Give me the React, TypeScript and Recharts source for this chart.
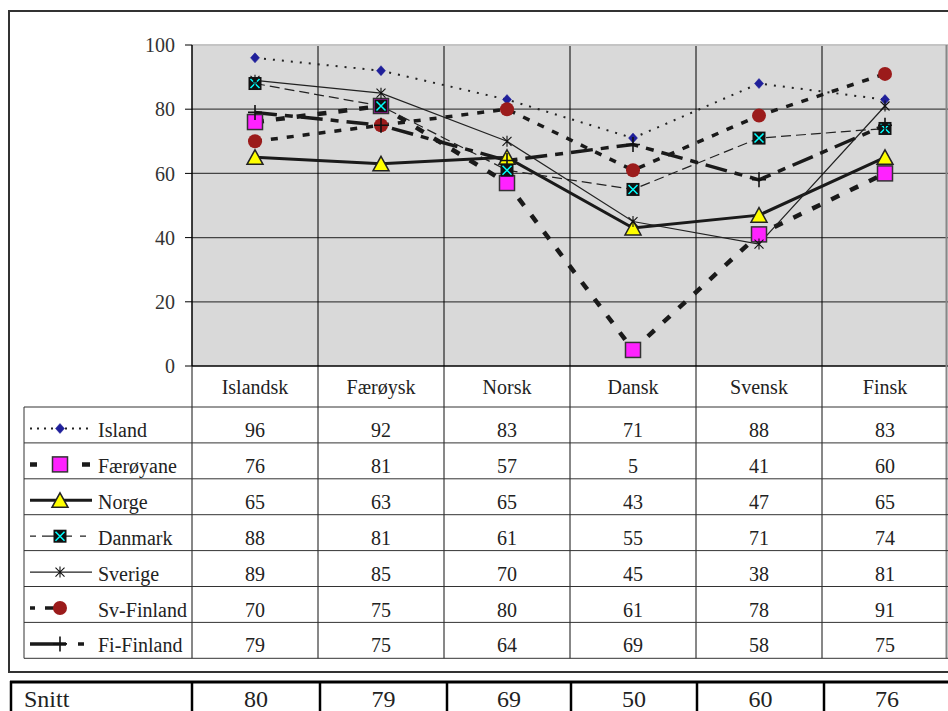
import React from 'react';
import { LineChart, Line, XAxis, YAxis, CartesianGrid, ReferenceLine } from 'recharts';

const categories = ['Islandsk', 'Færøysk', 'Norsk', 'Dansk', 'Svensk', 'Finsk'];
const island = [96, 92, 83, 71, 88, 83];
const faeroyane = [76, 81, 57, 5, 41, 60];
const norge = [65, 63, 65, 43, 47, 65];
const danmark = [88, 81, 61, 55, 71, 74];
const sverige = [89, 85, 70, 45, 38, 81];
const svFinland = [70, 75, 80, 61, 78, 91];
const fiFinland = [79, 75, 64, 69, 58, 75];
const snitt = [80, 79, 69, 50, 60, 76];
const seriesNames = ['Island', 'Færøyane', 'Norge', 'Danmark', 'Sverige', 'Sv-Finland', 'Fi-Finland'];
const yTicks = [0, 20, 40, 60, 80, 100];
const gridValues = [20, 40, 60, 80];
const snittLabel = 'Snitt';

const FONT = 'Liberation Serif, DejaVu Serif, Noto Serif, Times New Roman, serif';

type MarkerType = 'diamond' | 'square' | 'triangle' | 'xsquare' | 'star' | 'circle' | 'plus';

interface SeriesCfg {
  key: string;
  name: string;
  values: number[];
  width: number;
  dash?: string;
  legendDash?: string;
  marker: MarkerType;
  color: string;
}

const series: SeriesCfg[] = [
  { key: 'island', name: seriesNames[0], values: island, width: 2, dash: '2 7', legendDash: '2 5', marker: 'diamond', color: '#222' },
  { key: 'faeroyane', name: seriesNames[1], values: faeroyane, width: 4.5, dash: '9 12', legendDash: '7 45 8 100', marker: 'square', color: '#1a1a1a' },
  { key: 'norge', name: seriesNames[2], values: norge, width: 3, marker: 'triangle', color: '#1a1a1a' },
  { key: 'danmark', name: seriesNames[3], values: danmark, width: 1.2, dash: '10 5', legendDash: '6 6 30 8 6 20', marker: 'xsquare', color: '#222' },
  { key: 'sverige', name: seriesNames[4], values: sverige, width: 1.2, marker: 'star', color: '#222' },
  { key: 'svFinland', name: seriesNames[5], values: svFinland, width: 3.5, dash: '7 9', legendDash: '5 10 15 37 6 20', marker: 'circle', color: '#1a1a1a' },
  { key: 'fiFinland', name: seriesNames[6], values: fiFinland, width: 3.5, dash: '22 8 8 8', legendDash: '36 12 6 20', marker: 'plus', color: '#1a1a1a' },
];

const data = categories.map((c, i) => {
  const row: Record<string, number | string> = { i, cat: c };
  series.forEach((s) => {
    row[s.key] = s.values[i];
  });
  return row;
});

function Marker({ type, cx, cy }: { type: MarkerType; cx: number; cy: number }) {
  if (cx == null || cy == null) return null;
  switch (type) {
    case 'diamond':
      return (
        <polygon
          points={`${cx},${cy - 5} ${cx + 4.5},${cy} ${cx},${cy + 5} ${cx - 4.5},${cy}`}
          fill="#1f1f9a"
          stroke="#1f1f9a"
          strokeWidth={0.5}
        />
      );
    case 'square':
      return <rect x={cx - 7.5} y={cy - 7.5} width={15} height={15} fill="#ff22ff" stroke="#333" strokeWidth={1.5} />;
    case 'triangle':
      return (
        <polygon
          points={`${cx},${cy - 7.5} ${cx + 8},${cy + 7} ${cx - 8},${cy + 7}`}
          fill="#ffff00"
          stroke="#222"
          strokeWidth={1.5}
          strokeLinejoin="miter"
        />
      );
    case 'xsquare':
      return (
        <g>
          <rect x={cx - 6.5} y={cy - 6.5} width={13} height={13} fill="#111" />
          <path
            d={`M${cx - 4.5} ${cy - 4.5}L${cx + 4.5} ${cy + 4.5}M${cx + 4.5} ${cy - 4.5}L${cx - 4.5} ${cy + 4.5}`}
            stroke="#00ffff"
            strokeWidth={1.5}
          />
        </g>
      );
    case 'star':
      return (
        <path
          d={`M${cx - 4.5} ${cy - 4.5}L${cx + 4.5} ${cy + 4.5}M${cx + 4.5} ${cy - 4.5}L${cx - 4.5} ${cy + 4.5}M${cx} ${cy - 5.5}V${cy + 5.5}`}
          stroke="#111"
          strokeWidth={1.1}
          fill="none"
        />
      );
    case 'circle':
      return <circle cx={cx} cy={cy} r={7} fill="#9b1b1b" />;
    case 'plus':
      return (
        <path
          d={`M${cx - 7} ${cy}H${cx + 7}M${cx} ${cy - 7.5}V${cy + 7.5}`}
          stroke="#111"
          strokeWidth={1.6}
          fill="none"
        />
      );
    default:
      return null;
  }
}

// Table geometry
const colEdges = [192, 318, 444, 570, 696, 822, 948];
const tableLeft = 24;
const bodyTop = 407;
const rowH = 35.9;
const rowTop = (r: number) => bodyTop + r * rowH;
const snittEdges = [192, 320, 447, 571, 697, 824, 950];

const textStyle: React.CSSProperties = { fontFamily: FONT };

function Overlay() {
  const bottom = rowTop(series.length);
  return (
    <svg
      width={948}
      height={711}
      style={{ position: 'absolute', left: 0, top: 0, pointerEvents: 'none', fontFamily: FONT }}
    >
      {/* outer frame */}
      <rect x={9} y={11} width={1000} height={661} fill="none" stroke="#333" strokeWidth={2} />
      {/* x axis line */}
      <line x1={192} x2={948} y1={366} y2={366} stroke="#000" strokeWidth={1.5} />
      {/* header vertical lines */}
      {colEdges.slice(0, 6).map((x) => (
        <line key={`hv${x}`} x1={x} x2={x} y1={366} y2={bottom} stroke="#111" strokeWidth={1} />
      ))}
      <line x1={946.5} x2={946.5} y1={45} y2={bottom} stroke="#888" strokeWidth={2} />
      <line x1={tableLeft} x2={tableLeft} y1={bodyTop} y2={bottom} stroke="#333" strokeWidth={1} />
      {series.map((_, r) => (
        <line key={`hl${r}`} x1={tableLeft} x2={948} y1={rowTop(r)} y2={rowTop(r)} stroke="#333" strokeWidth={1} />
      ))}
      <line x1={tableLeft} x2={948} y1={bottom} y2={bottom} stroke="#333" strokeWidth={1} />
      {/* header labels */}
      {categories.map((c, i) => (
        <text
          key={`h${c}`}
          x={(colEdges[i] + colEdges[i + 1]) / 2}
          y={394}
          textAnchor="middle"
          fontSize={20}
          fill="#222"
          style={textStyle}
        >
          {c}
        </text>
      ))}
      {/* body rows */}
      {series.map((s, r) => {
        const top = rowTop(r);
        const ly = top + 21.5;
        return (
          <g key={`row${s.key}`}>
            <line
              x1={30}
              x2={92}
              y1={ly}
              y2={ly}
              stroke={s.color}
              strokeWidth={s.width}
              strokeDasharray={s.legendDash ?? s.dash}
            />
            <Marker type={s.marker} cx={60} cy={ly} />
            <text x={98} y={top + 30} fontSize={20} fill="#222" style={textStyle}>
              {s.name}
            </text>
            {s.values.map((v, i) => (
              <text
                key={`v${i}`}
                x={(colEdges[i] + colEdges[i + 1]) / 2}
                y={top + 30}
                textAnchor="middle"
                fontSize={20}
                fill="#222"
                style={textStyle}
              >
                {v}
              </text>
            ))}
          </g>
        );
      })}
      {/* Snitt table */}
      <line x1={10} x2={948} y1={682} y2={682} stroke="#000" strokeWidth={3} />
      <line x1={11} x2={11} y1={681} y2={711} stroke="#000" strokeWidth={2.5} />
      {snittEdges.slice(0, 6).map((x) => (
        <line key={`sv${x}`} x1={x} x2={x} y1={681} y2={711} stroke="#000" strokeWidth={2.5} />
      ))}
      <text x={24} y={707} fontSize={24} fill="#222" style={textStyle}>
        {snittLabel}
      </text>
      {snitt.map((v, i) => (
        <text
          key={`s${i}`}
          x={(snittEdges[i] + snittEdges[i + 1]) / 2}
          y={707}
          textAnchor="middle"
          fontSize={24}
          fill="#222"
          style={textStyle}
        >
          {v}
        </text>
      ))}
    </svg>
  );
}

export default function App() {
  return (
    <div
      style={{
        position: 'absolute',
        left: 0,
        top: 0,
        width: 948,
        height: 711,
        overflow: 'hidden',
        background: '#fff',
        fontFamily: FONT,
      }}
    >
      <div style={{ position: 'absolute', left: 0, top: 0 }}>
        <LineChart width={948} height={400} data={data} margin={{ top: 45, right: 0, bottom: 34, left: 132 }}>
          <CartesianGrid
            fill="#d9d9d9"
            fillOpacity={1}
            vertical={false}
            horizontalValues={gridValues}
            stroke="#444"
            strokeWidth={1.2}
          />
          <CartesianGrid horizontal={false} verticalValues={[0.5, 1.5, 2.5, 3.5, 4.5]} stroke="#000" strokeWidth={1} />
          <XAxis dataKey="i" type="number" domain={[-0.5, 5.5]} hide />
          <YAxis
            domain={[0, 100]}
            ticks={yTicks}
            interval={0}
            width={60}
            tickSize={7}
            tickMargin={10}
            axisLine={{ stroke: '#000', strokeWidth: 1.5 }}
            tickLine={{ stroke: '#000', strokeWidth: 1 }}
            tick={{ fontSize: 20, fill: '#333', style: textStyle }}
          />
          <ReferenceLine y={100} stroke="#c4c4c4" strokeWidth={2} />
          {series.map((s) => (
            <Line
              key={s.key}
              dataKey={s.key}
              name={s.name}
              stroke={s.color}
              strokeWidth={s.width}
              strokeDasharray={s.dash}
              isAnimationActive={false}
              activeDot={false}
              dot={(p: any) => <Marker key={`${s.key}-${p.index}`} type={s.marker} cx={p.cx} cy={p.cy} />}
            />
          ))}
        </LineChart>
      </div>
      <Overlay />
    </div>
  );
}
